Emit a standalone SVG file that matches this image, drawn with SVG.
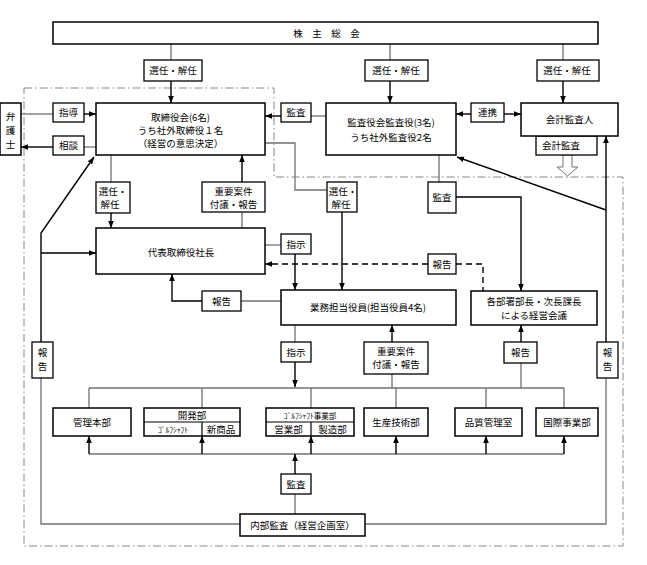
<svg xmlns="http://www.w3.org/2000/svg" width="647" height="565" viewBox="0 0 647 565">
<defs>
<marker id="ah" viewBox="0 0 10 10" refX="10" refY="5" markerWidth="7" markerHeight="7" markerUnits="userSpaceOnUse" orient="auto"><path d="M0,1 L10,5 L0,9 z" fill="#000"/></marker>
<style>
.bx{fill:#fff;stroke:#000;stroke-width:1.5}
.lb{fill:#fff;stroke:#000;stroke-width:1.3}
.ln{fill:none;stroke:#707070;stroke-width:1.3}
.ar{fill:none;stroke:#000;stroke-width:1.4;marker-end:url(#ah)}
.dash{fill:none;stroke:#000;stroke-width:1.4;stroke-dasharray:6,4}
.bd{fill:none;stroke:#888;stroke-width:1;stroke-dasharray:8,3,1.5,3}
text{font-family:"Noto Sans CJK JP","Noto Sans CJK SC",sans-serif;font-size:9.5px;fill:#000;text-anchor:middle}
.sm{font-size:7.5px}
</style>
</defs>
<rect width="647" height="565" fill="#fff"/>
<polygon class="bd" points="24,88 274,88 274,177 623,177 623,546 24,546"/>

<g id="connectors">
<path class="ln" d="M171,44 V60"/><path class="ar" d="M171,81 V103"/>
<path class="ln" d="M390,44 V60"/><path class="ar" d="M390,81 V103"/>
<path class="ln" d="M563,44 V60"/><path class="ar" d="M563,81 V103"/>
<path class="ln" d="M21,114 H53"/><path class="ar" d="M84,114 H96"/>
<path class="ln" d="M96,147 H84"/><path class="ar" d="M53,147 H21"/>
<path class="ln" d="M326,116 H311"/><path class="ar" d="M281,116 H265"/>
<path class="ar" d="M471,114 H456"/><path class="ar" d="M504,114 H521"/>
<path class="ln" d="M111,155 V182"/><path class="ar" d="M111,213 V228"/>
<path class="ln" d="M242,228 V212"/><path class="ar" d="M242,182 V155"/>
<path class="ln" d="M265,143 H295 V190 H327"/><path class="ar" d="M342,212 V290"/>
<path class="ln" d="M265,245 H281"/><path class="ar" d="M295,254 V290"/>
<path class="dash" d="M428,264 H271"/><path class="ar" d="M272,264 H265"/>
<path class="dash" d="M456,264 H483 V291"/>
<path class="ln" d="M281,301 H241"/><path class="ar" d="M202,301 H172 V274"/>
<path class="ln" d="M439,155 V182"/><path class="ar" d="M456,197 H521 V291"/>
<path class="ar" d="M606,210 L457,157"/>
<path class="ar" d="M606,343 V136"/>
<path class="ln" d="M606,378 V524 H365"/>
<path class="ar" d="M41,342 V233 L94,157"/>
<path class="ar" d="M41,253 H96"/>
<path class="ln" d="M41,377 V524 H240"/>
<path class="ln" d="M295,325 V342"/><path class="ar" d="M295,362 V387"/>
<path class="ln" d="M392,388 V374"/><path class="ar" d="M392,342 V325"/>
<path class="ln" d="M521,388 V363"/><path class="ar" d="M521,342 V325"/>
<path class="ln" d="M89,388 H564 M89,388 V408 M202,388 V408 M311,388 V408 M396,388 V408 M486,388 V408 M564,388 V408"/>
<path class="ln" d="M89,454 H564"/>
<path class="ar" d="M89,454 V436"/><path class="ar" d="M202,454 V436"/><path class="ar" d="M311,454 V436"/><path class="ar" d="M396,454 V436"/><path class="ar" d="M486,454 V436"/><path class="ar" d="M564,454 V436"/>
<path class="ln" d="M295,514 V494"/><path class="ar" d="M295,474 V454"/>
<polygon points="563,155 572,155 572,167 578,167 567.5,176 557,167 563,167" fill="#fff" stroke="#707070" stroke-width="1"/>
</g>

<g id="labels">
<rect class="lb" x="144" y="60" width="58" height="21"/><text x="173" y="74">選任・解任</text>
<rect class="lb" x="365" y="60" width="63" height="21"/><text x="396" y="74">選任・解任</text>
<rect class="lb" x="537" y="60" width="62" height="21"/><text x="567" y="74">選任・解任</text>
<rect class="lb" x="53" y="103" width="31" height="19"/><text x="68.5" y="116">指導</text>
<rect class="lb" x="53" y="136" width="31" height="19"/><text x="68.5" y="149">相談</text>
<rect class="lb" x="281" y="103" width="30" height="19"/><text x="296" y="116">監査</text>
<rect class="lb" x="471" y="103" width="33" height="19"/><text x="487.5" y="116">連携</text>
<rect class="lb" x="536" y="136" width="61" height="19"/><text x="561" y="149">会計監査</text>
<rect class="lb" x="96" y="182" width="34" height="31"/><text x="113" y="195">選任・</text><text x="110" y="208">解任</text>
<rect class="lb" x="202" y="182" width="63" height="30"/><text x="233.5" y="195">重要案件</text><text x="233.5" y="208">付議・報告</text>
<rect class="lb" x="327" y="182" width="30" height="30"/><text x="343" y="195">選任・</text><text x="341" y="208">解任</text>
<rect class="lb" x="428" y="182" width="28" height="31"/><text x="442" y="201">監査</text>
<rect class="lb" x="281" y="234" width="30" height="20"/><text x="296" y="247.5">指示</text>
<rect class="lb" x="428" y="254" width="28" height="20"/><text x="442" y="267.5">報告</text>
<rect class="lb" x="202" y="291" width="39" height="20"/><text x="221.5" y="304.5">報告</text>
<rect class="lb" x="281" y="342" width="30" height="20"/><text x="296" y="355.5">指示</text>
<rect class="lb" x="364" y="342" width="64" height="32"/><text x="396" y="355">重要案件</text><text x="396" y="368">付議・報告</text>
<rect class="lb" x="504" y="342" width="33" height="21"/><text x="520.5" y="356">報告</text>
<rect class="lb" x="32" y="342" width="21" height="36"/><text x="42.5" y="356">報</text><text x="42.5" y="370">告</text>
<rect class="lb" x="597" y="342" width="21" height="36"/><text x="607.5" y="356">報</text><text x="607.5" y="370">告</text>
<rect class="lb" x="281" y="474" width="30" height="20"/><text x="296" y="487.5">監査</text>
</g>

<g id="shareholders"><rect class="bx" x="53" y="22" width="545" height="22"/><text x="298 317 336 355" y="36.5">株主総会</text></g>
<g id="lawyer"><rect class="bx" x="0" y="103" width="21" height="52"/><text x="10.5" y="120">弁</text><text x="10.5" y="134">護</text><text x="10.5" y="148">士</text></g>
<g id="board"><rect class="bx" x="96" y="103" width="169" height="52"/><text x="180.5" y="120.5">取締役会(6名)</text><text x="180.5" y="133.5">うち社外取締役１名</text><text x="180.5" y="146.5">（経営の意思決定）</text></g>
<g id="auditors"><rect class="bx" x="326" y="103" width="130" height="52"/><text x="391" y="125.5">監査役会監査役(3名)</text><text x="391" y="140.5">うち社外監査役2名</text></g>
<g id="accounting-auditor"><rect class="bx" x="521" y="103" width="97" height="33"/><text x="569.5" y="123">会計監査人</text></g>
<g id="president"><rect class="bx" x="96" y="228" width="169" height="46"/><text x="181" y="255.5">代表取締役社長</text></g>
<g id="officers"><rect class="bx" x="281" y="290" width="175" height="35"/><text x="368" y="311">業務担当役員(担当役員4名)</text></g>
<g id="mgmt-meeting"><rect class="bx" x="471" y="291" width="126" height="34"/><text x="534" y="305">各部署部長・次長課長</text><text x="534" y="318.5">による経営会議</text></g>
<g id="admin"><rect class="bx" x="53" y="408" width="78" height="28"/><text x="92" y="425.5">管理本部</text></g>
<g id="dev"><rect class="bx" x="144" y="408" width="96" height="28"/><path d="M144,422 H240 M202,422 V436" stroke="#000" stroke-width="1.2"/><text x="192" y="418.5">開発部</text><text class="sm" x="173" y="432.5">ｺﾞﾙﾌｼｬﾌﾄ</text><text x="221" y="432.5">新商品</text></g>
<g id="shaft"><rect class="bx" x="266" y="408" width="88" height="28"/><path d="M266,422 H354 M311,422 V436" stroke="#000" stroke-width="1.2"/><text class="sm" x="310" y="418.5">ｺﾞﾙﾌｼｬﾌﾄ事業部</text><text x="288.5" y="432.5">営業部</text><text x="332.5" y="432.5">製造部</text></g>
<g id="prodtech"><rect class="bx" x="364" y="408" width="64" height="28"/><text x="396" y="425.5">生産技術部</text></g>
<g id="quality"><rect class="bx" x="455" y="408" width="67" height="28"/><text x="488.5" y="425.5">品質管理室</text></g>
<g id="intl"><rect class="bx" x="536" y="408" width="62" height="28"/><text x="567" y="425.5">国際事業部</text></g>
<g id="internal-audit"><rect class="bx" x="240" y="514" width="125" height="22"/><text x="302.5" y="528.5">内部監査（経営企画室）</text></g>
</svg>
